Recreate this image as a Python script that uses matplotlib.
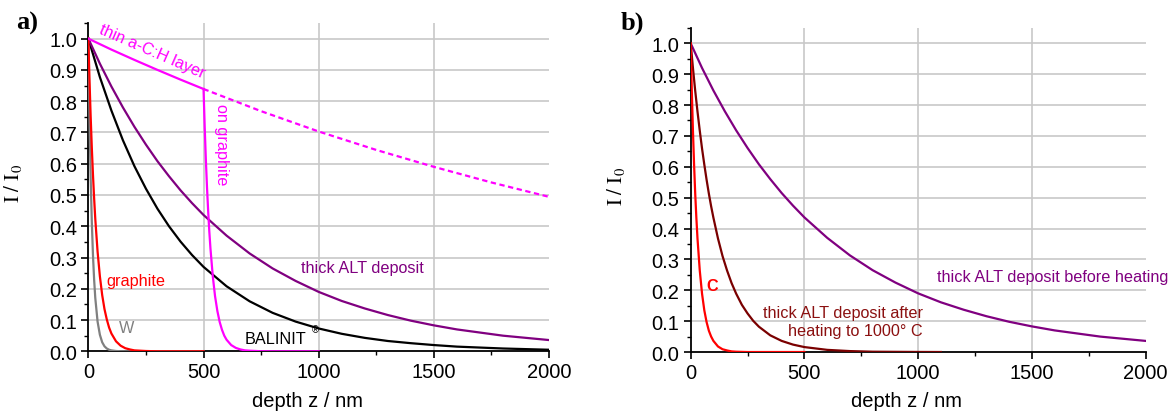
import matplotlib
matplotlib.use("Agg")
import matplotlib.pyplot as plt
from matplotlib.ticker import MultipleLocator

plt.rcParams['font.family'] = ['Liberation Sans', 'DejaVu Sans']
plt.rcParams['mathtext.fontset'] = 'stix'

# ---------------- data ----------------
# steep curves (W, graphite, C)
z_steep = [0, 5, 10, 15, 20, 25, 30, 40, 50, 60, 70, 80, 90, 100, 120, 140, 160, 180, 200, 250, 300, 400, 500]
i_W = [1.0, 0.745, 0.555, 0.414, 0.308, 0.230, 0.171, 0.095, 0.053, 0.029, 0.016, 0.009, 0.005, 0.003,
       0.001, 0.0003, 0.0001, 0.0, 0.0, 0.0, 0.0, 0.0, 0.0]
i_graphite = [1.0, 0.867, 0.751, 0.651, 0.565, 0.490, 0.424, 0.319, 0.240, 0.180, 0.135, 0.102, 0.076, 0.057,
              0.032, 0.018, 0.010, 0.006, 0.003, 0.001, 0.0, 0.0, 0.0]
i_C = [1.0, 0.846, 0.717, 0.607, 0.513, 0.435, 0.368, 0.264, 0.189, 0.135, 0.097, 0.069, 0.050, 0.036,
       0.018, 0.009, 0.005, 0.002, 0.001, 0.0, 0.0, 0.0, 0.0]

# slow curves (BALINIT, thick ALT deposit)
z_slow = [0, 50, 100, 150, 200, 250, 300, 350, 400, 450, 500, 600, 700, 800, 900, 1000,
          1100, 1200, 1300, 1400, 1500, 1600, 1700, 1800, 1900, 2000]
i_balinit = [1.0, 0.877, 0.770, 0.675, 0.592, 0.520, 0.456, 0.400, 0.351, 0.308, 0.270, 0.208, 0.160,
             0.123, 0.095, 0.073, 0.056, 0.043, 0.033, 0.026, 0.020, 0.015, 0.012, 0.009, 0.007, 0.005]
i_alt = [1.0, 0.920, 0.847, 0.780, 0.718, 0.661, 0.608, 0.560, 0.515, 0.474, 0.436, 0.370, 0.313,
         0.265, 0.225, 0.190, 0.161, 0.137, 0.116, 0.098, 0.083, 0.070, 0.060, 0.050, 0.043, 0.036]

# thin a-C:H layer (solid up to 500 nm, dashed continuation)
z_layer = [0, 100, 200, 300, 400, 500]
i_layer = [1.0, 0.965, 0.932, 0.900, 0.869, 0.839]
z_layer_ext = [500, 750, 1000, 1250, 1500, 1750, 2000]
i_layer_ext = [0.839, 0.768, 0.703, 0.644, 0.590, 0.540, 0.494]

# a-C:H layer on graphite: drop after 500 nm
z_ongr = [500, 505, 510, 515, 520, 525, 530, 540, 550, 560, 570, 580, 590, 600, 620, 640, 660, 680,
          700, 750, 800, 1000]
i_ongr = [0.839, 0.718, 0.614, 0.525, 0.449, 0.384, 0.329, 0.241, 0.176, 0.129, 0.094, 0.069, 0.050,
          0.037, 0.020, 0.011, 0.006, 0.003, 0.002, 0.0003, 0.0, 0.0]

# thick ALT deposit after heating (panel b)
z_heat = [0, 10, 20, 30, 40, 50, 60, 70, 80, 90, 100, 120, 140, 160, 180, 200, 225, 250, 275, 300,
          350, 400, 450, 500, 600, 700, 800, 900, 1000, 1100]
i_heat = [1.0, 0.920, 0.846, 0.779, 0.717, 0.659, 0.607, 0.558, 0.513, 0.472, 0.435, 0.368, 0.311,
          0.264, 0.223, 0.189, 0.153, 0.125, 0.101, 0.082, 0.054, 0.036, 0.024, 0.016, 0.007, 0.003,
          0.001, 0.0006, 0.0002, 0.0]

x_ticks = [0, 500, 1000, 1500, 2000]
y_ticks = [0.0, 0.1, 0.2, 0.3, 0.4, 0.5, 0.6, 0.7, 0.8, 0.9, 1.0]

# ---------------- style ----------------
MAGENTA = '#FF00FF'
PURPLE = '#800080'
RED = '#FF0000'
GRAY = '#808080'
DARKRED = '#7A0000'
LW = 1.6
FS_TICK = 14.5
FS_ANN = 11.7

fig = plt.figure(figsize=(11.75, 4.14), dpi=100)
axa = fig.add_axes([0.0752, 0.149, 0.3921, 0.793])
axb = fig.add_axes([0.5878, 0.1473, 0.3872, 0.783])


def style(ax, xlabel_x):
    ax.set_xlim(0, 2000)
    ax.set_ylim(0, 1.05)
    ax.set_xticks(x_ticks)
    ax.set_yticks(y_ticks)
    ax.set_yticklabels([f"{v:.1f}" for v in y_ticks])
    ax.xaxis.set_minor_locator(MultipleLocator(250))
    ax.yaxis.set_minor_locator(MultipleLocator(0.05))
    ax.tick_params(which='major', direction='out', length=5, width=1.2, labelsize=FS_TICK, pad=3)
    ax.tick_params(which='minor', direction='out', length=3, width=1.0)
    for s in ['top', 'right']:
        ax.spines[s].set_visible(False)
    for s in ['left', 'bottom']:
        ax.spines[s].set_linewidth(1.3)
    for v in y_ticks[1:]:
        ax.axhline(v, color='#c8c8c8', lw=1.2, zorder=0)
    for v in x_ticks[1:4]:
        ax.axvline(v, color='#c8c8c8', lw=1.2, zorder=0)
    ax.set_xlabel('depth z / nm', fontsize=FS_TICK)
    ax.xaxis.set_label_coords(xlabel_x, -0.12)
    ax.set_ylabel(r'$\mathrm{I\ /\ I_0}$', fontsize=15)
    ax.yaxis.set_label_coords(-0.14, 0.515)


style(axa, 0.476)
style(axb, 0.474)

# ---- panel a ----
axa.plot(z_steep, i_W, color=GRAY, lw=LW, zorder=3)
axa.plot(z_slow, i_balinit, color='black', lw=LW, zorder=3)
axa.plot(z_slow, i_alt, color=PURPLE, lw=LW, zorder=3)
axa.plot(z_steep, i_graphite, color=RED, lw=LW, zorder=4)
axa.plot(z_layer, i_layer, color=MAGENTA, lw=LW, zorder=5)
axa.plot(z_layer_ext, i_layer_ext, color=MAGENTA, lw=LW, ls=(0, (2.4, 1.6)), zorder=5)
axa.plot(z_ongr, i_ongr, color=MAGENTA, lw=LW, zorder=5)

axa.text(276, 0.962, 'thin a-C:H layer', color=MAGENTA, fontsize=FS_ANN, rotation=-23.5,
         rotation_mode='anchor', ha='center', va='center')
axa.text(576, 0.664, 'on graphite', color=MAGENTA, fontsize=FS_ANN, rotation=-90,
         ha='center', va='center')
axa.text(207, 0.228, 'graphite', color=RED, fontsize=FS_ANN, ha='center', va='center')
axa.text(164, 0.075, 'W', color=GRAY, fontsize=FS_ANN, ha='center', va='center')
axa.text(680, 0.040, 'BALINIT', color='black', fontsize=FS_ANN, ha='left', va='center')
axa.text(972, 0.070, '®', color='black', fontsize=7, ha='left', va='center')
axa.text(1188, 0.267, 'thick ALT deposit', color=PURPLE, fontsize=FS_ANN, ha='center', va='center')

# ---- panel b ----
axb.plot(z_slow, i_alt, color=PURPLE, lw=LW, zorder=3)
axb.plot(z_heat, i_heat, color=DARKRED, lw=LW, zorder=4)
axb.plot(z_steep, i_C, color=RED, lw=LW, zorder=5)

axb.text(94, 0.214, 'C', color=RED, fontsize=FS_ANN, fontweight='bold', ha='center', va='center')
axb.text(1020, 0.098, 'thick ALT deposit after\nheating to 1000° C', color='#8B1010',
         fontsize=FS_ANN, ha='right', va='center', multialignment='right', linespacing=1.25)
axb.text(1084, 0.243, 'thick ALT deposit before heating', color=PURPLE, fontsize=FS_ANN,
         ha='left', va='center', clip_on=False)

fig.text(27 / 1175, 1 - 23 / 414, 'a)', fontsize=19, fontweight='bold',
         family=['Liberation Serif'], ha='center', va='center')
fig.text(632 / 1175, 1 - 23 / 414, 'b)', fontsize=19, fontweight='bold',
         family=['Liberation Serif'], ha='center', va='center')

fig.savefig('out.png', dpi=100)
